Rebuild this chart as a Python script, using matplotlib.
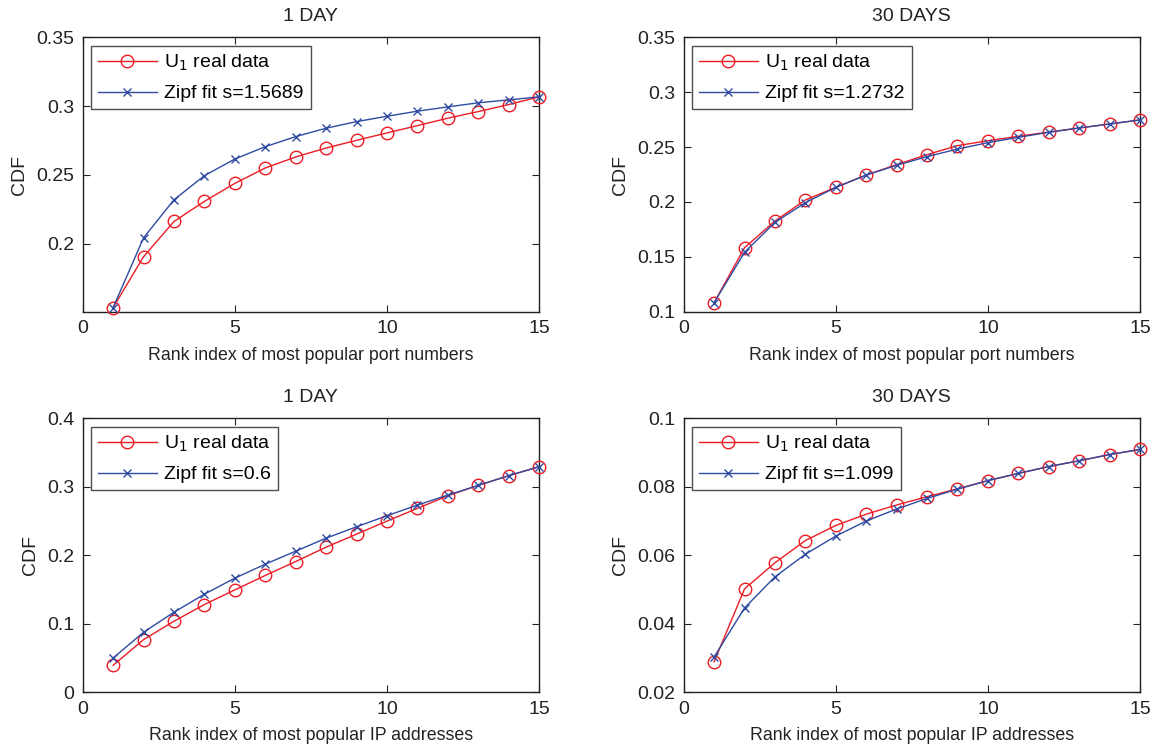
import matplotlib
matplotlib.use("Agg")
import matplotlib.pyplot as plt

plt.rcParams['font.family'] = ['Liberation Sans', 'DejaVu Sans']
plt.rcParams['font.size'] = 14

rank = list(range(1, 16))

# Top-left: port numbers, 1 day
port_1d_real = [0.1535, 0.1905, 0.2161, 0.2307, 0.2438, 0.2550, 0.2630, 0.2695,
                0.2751, 0.2805, 0.2858, 0.2912, 0.2960, 0.3011, 0.3067]
port_1d_zipf = [0.1535, 0.2042, 0.2319, 0.2494, 0.2615, 0.2705, 0.2778, 0.2839,
                0.2887, 0.2926, 0.2963, 0.2994, 0.3024, 0.3045, 0.3067]

# Top-right: port numbers, 30 days
port_30d_real = [0.1082, 0.1583, 0.1826, 0.2018, 0.2133, 0.2245, 0.2340, 0.2431,
                 0.2513, 0.2558, 0.2598, 0.2637, 0.2674, 0.2710, 0.2747]
port_30d_zipf = [0.1082, 0.1541, 0.1814, 0.1993, 0.2133, 0.2245, 0.2334, 0.2413,
                 0.2482, 0.2540, 0.2589, 0.2634, 0.2674, 0.2710, 0.2747]

# Bottom-left: IP addresses, 1 day
ip_1d_real = [0.0394, 0.0769, 0.1037, 0.1281, 0.1495, 0.1705, 0.1909, 0.2119,
              0.2309, 0.2499, 0.2684, 0.2869, 0.3020, 0.3162, 0.3293]
ip_1d_zipf = [0.0501, 0.0876, 0.1169, 0.1432, 0.1666, 0.1870, 0.2060, 0.2250,
              0.2416, 0.2577, 0.2733, 0.2879, 0.3020, 0.3162, 0.3293]

# Bottom-right: IP addresses, 30 days
ip_30d_real = [0.0289, 0.0502, 0.0578, 0.0643, 0.0687, 0.0720, 0.0747, 0.0771,
               0.0794, 0.0818, 0.0839, 0.0859, 0.0876, 0.0894, 0.0909]
ip_30d_zipf = [0.0303, 0.0446, 0.0537, 0.0603, 0.0656, 0.0700, 0.0735, 0.0766,
               0.0793, 0.0818, 0.0839, 0.0859, 0.0876, 0.0894, 0.0909]

titles = ["1 DAY", "30 DAYS", "1 DAY", "30 DAYS"]
xlabels = ["Rank index of most popular port numbers",
           "Rank index of most popular port numbers",
           "Rank index of most popular IP addresses",
           "Rank index of most popular IP addresses"]
zipf_labels = ["Zipf fit s=1.5689", "Zipf fit s=1.2732", "Zipf fit s=0.6", "Zipf fit s=1.099"]
real_label = r"U$_1$ real data"
xticks = [0, 5, 10, 15]
yticks_list = [[0.2, 0.25, 0.3, 0.35],
               [0.1, 0.15, 0.2, 0.25, 0.3, 0.35],
               [0, 0.1, 0.2, 0.3, 0.4],
               [0.02, 0.04, 0.06, 0.08, 0.1]]
ytick_labels = [["0.2", "0.25", "0.3", "0.35"],
                ["0.1", "0.15", "0.2", "0.25", "0.3", "0.35"],
                ["0", "0.1", "0.2", "0.3", "0.4"],
                ["0.02", "0.04", "0.06", "0.08", "0.1"]]
ylims = [(0.1505, 0.35), (0.1, 0.35), (0.0, 0.4), (0.02, 0.1)]

reals = [port_1d_real, port_30d_real, ip_1d_real, ip_30d_real]
zipfs = [port_1d_zipf, port_30d_zipf, ip_1d_zipf, ip_30d_zipf]

RED = '#ec1c24'
BLUE = '#2f4ba2'
TXT = '#222222'

fig = plt.figure(figsize=(11.57, 7.48), dpi=100)
positions = [
    [0.0715, 0.5833, 0.3944, 0.3668],
    [0.5909, 0.5833, 0.3944, 0.3668],
    [0.0715, 0.0745, 0.3944, 0.3663],
    [0.5909, 0.0745, 0.3944, 0.3663],
]

for i in range(4):
    ax = fig.add_axes(positions[i])
    ax.plot(rank, reals[i], color=RED, lw=1.0, marker='o', markersize=9,
            markerfacecolor='none', markeredgecolor=RED, markeredgewidth=1.0,
            label=real_label, clip_on=False, zorder=3)
    ax.plot(rank, zipfs[i], color=BLUE, lw=1.0, marker='x', markersize=6,
            markeredgecolor=BLUE, markeredgewidth=1.0,
            label=zipf_labels[i], clip_on=False, zorder=4)
    ax.set_xlim(0, 15)
    ax.set_ylim(*ylims[i])
    ax.set_xticks(xticks)
    ax.set_xticklabels([str(t) for t in xticks])
    ax.set_yticks(yticks_list[i])
    ax.set_yticklabels(ytick_labels[i])
    ax.tick_params(direction='in', top=True, right=True, length=5, width=0.8,
                   labelsize=14, colors=TXT, pad=6)
    for s in ax.spines.values():
        s.set_linewidth(1.0)
        s.set_color(TXT)
    ax.set_title(titles[i], fontsize=14, pad=11.5, color=TXT)
    ax.set_xlabel(xlabels[i], fontsize=12.8, color=TXT, labelpad=7)
    ax.set_ylabel("CDF", fontsize=14, color=TXT, labelpad=6)
    leg = ax.legend(loc='upper left', fontsize=14, frameon=True, fancybox=False,
                    edgecolor=TXT, borderaxespad=0.45, handlelength=3.0,
                    borderpad=0.35, labelspacing=0.6, handletextpad=0.4)
    leg.get_frame().set_linewidth(1.0)

fig.savefig("out.png", dpi=100)
